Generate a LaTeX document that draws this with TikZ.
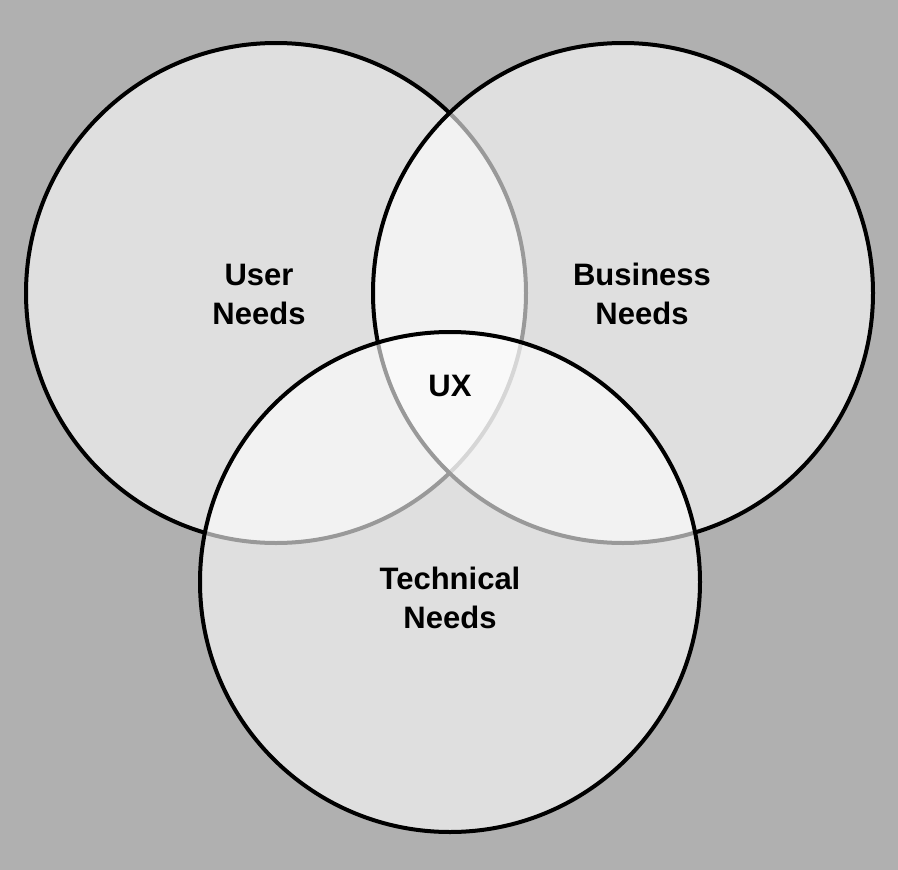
\documentclass[tikz,border=0pt]{standalone}
\usepackage{fontspec}
\setmainfont{Liberation Sans}
\usetikzlibrary{positioning}

\definecolor{backgray}{HTML}{B0B0B0}

\begin{document}
\begin{tikzpicture}[x=1pt,y=-1pt,
  venn/.style={circle,draw=black,line width=4pt,fill=white,fill opacity=0.6,
    minimum size=500pt,inner sep=0pt},
  vennlabel/.style={align=center,inner sep=0pt,text=black,
    font=\bfseries\fontsize{31pt}{39pt}\selectfont}]

\fill[backgray] (0.000000,0.000000) rectangle (898.000000,870.000000);
\useasboundingbox (0.000000,0.000000) rectangle (898.000000,870.000000);

\node[venn] (user) at (276.000000,293.000000) {};
\node[venn] (business) at (623.000000,293.000000) {};
\node[venn] (technical) at (450.000000,582.000000) {};

\node[vennlabel] (userlabel) at (259.000000,294.000000) {User\\Needs};
\node[vennlabel] (businesslabel) at (642.000000,294.000000) {Business\\Needs};
\node[vennlabel] (technicallabel) at (450.000000,598.000000) {Technical\\Needs};
\node[vennlabel] (ux) at (450.000000,386.000000) {UX};
\end{tikzpicture}
\end{document}
